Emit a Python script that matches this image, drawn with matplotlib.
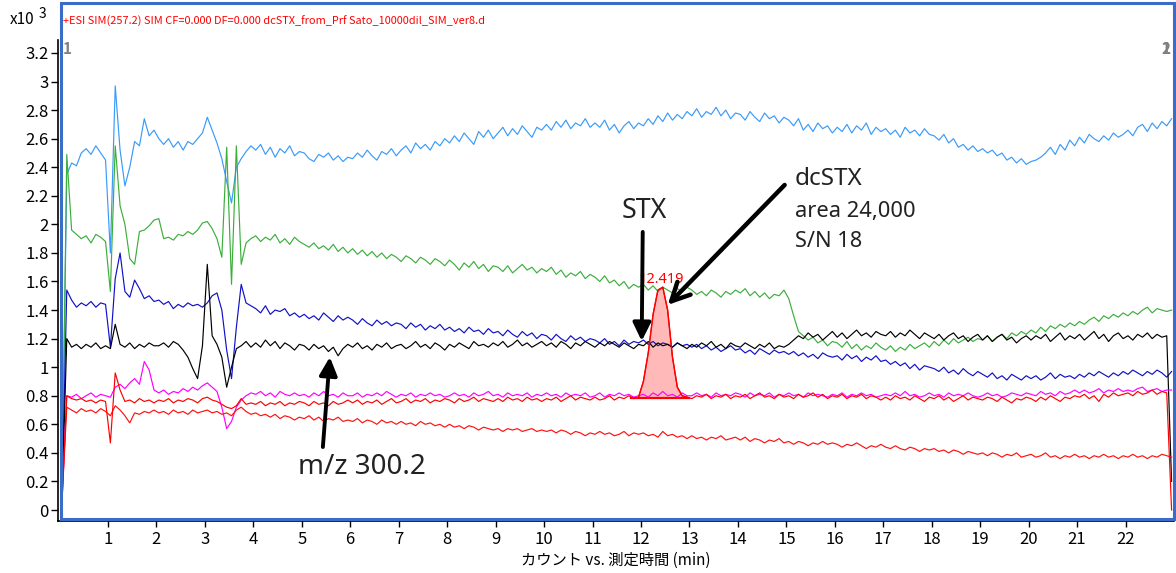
import numpy as np
import matplotlib
matplotlib.use("Agg")
import matplotlib.pyplot as plt
from matplotlib.patches import Rectangle
from matplotlib.ticker import FuncFormatter

plt.rcParams['font.family'] = ['Noto Sans CJK JP', 'DejaVu Sans']

# scans every 0.1 min, first one at 0.05 min
times = np.round(0.05 + 0.1 * np.arange(230), 2)

# intensities in x10^3 counts, one row per minute
light_blue = [
    0.05, 2.35, 2.43, 2.41, 2.50, 2.53, 2.49, 2.55, 2.50, 2.45,
    1.80, 2.97, 2.52, 2.27, 2.40, 2.58, 2.55, 2.74, 2.62, 2.66,
    2.60, 2.56, 2.60, 2.54, 2.58, 2.52, 2.58, 2.56, 2.60, 2.64,
    2.75, 2.66, 2.57, 2.46, 2.30, 2.15, 2.40, 2.46, 2.51, 2.55,
    2.52, 2.56, 2.49, 2.54, 2.47, 2.53, 2.50, 2.55, 2.48, 2.51,
    2.50, 2.46, 2.44, 2.49, 2.47, 2.50, 2.45, 2.48, 2.44, 2.47,
    2.46, 2.50, 2.47, 2.52, 2.48, 2.45, 2.51, 2.49, 2.53, 2.48,
    2.52, 2.55, 2.50, 2.57, 2.53, 2.56, 2.52, 2.58, 2.55, 2.60,
    2.57, 2.62, 2.58, 2.64, 2.60, 2.56, 2.65, 2.61, 2.66, 2.60,
    2.64, 2.68, 2.62, 2.67, 2.63, 2.69, 2.65, 2.61, 2.68, 2.66,
    2.70, 2.66, 2.72, 2.68, 2.73, 2.67, 2.71, 2.69, 2.74, 2.68,
    2.71, 2.68, 2.73, 2.66, 2.70, 2.64, 2.69, 2.72, 2.67, 2.71,
    2.69, 2.74, 2.70, 2.76, 2.72, 2.78, 2.73, 2.77, 2.74, 2.79,
    2.76, 2.81, 2.75, 2.79, 2.77, 2.82, 2.76, 2.80, 2.74, 2.78,
    2.77, 2.73, 2.79, 2.75, 2.72, 2.78, 2.74, 2.76, 2.71, 2.75,
    2.73, 2.69, 2.74, 2.66, 2.70, 2.65, 2.71, 2.67, 2.69, 2.64,
    2.68, 2.65, 2.70, 2.64, 2.69, 2.66, 2.71, 2.63, 2.68, 2.65,
    2.67, 2.63, 2.66, 2.61, 2.68, 2.64, 2.66, 2.62, 2.67, 2.63,
    2.62, 2.59, 2.63, 2.57, 2.60, 2.54, 2.56, 2.52, 2.55, 2.51,
    2.53, 2.50, 2.52, 2.48, 2.50, 2.45, 2.47, 2.43, 2.46, 2.42,
    2.44, 2.45, 2.47, 2.50, 2.54, 2.49, 2.56, 2.52, 2.59, 2.55,
    2.61, 2.57, 2.63, 2.60, 2.58, 2.62, 2.59, 2.64, 2.61, 2.63,
    2.66, 2.62, 2.68, 2.70, 2.65, 2.71, 2.67, 2.72, 2.69, 2.74,
]

green = [
    0.05, 2.49, 1.96, 1.93, 1.90, 1.92, 1.87, 1.93, 1.91, 1.88,
    1.53, 2.55, 2.13, 2.00, 1.76, 1.72, 1.95, 1.96, 1.99, 2.03,
    2.04, 1.90, 1.91, 1.89, 1.93, 1.92, 1.95, 1.93, 1.96, 2.01,
    2.02, 1.97, 1.90, 1.77, 2.54, 1.58, 2.55, 1.72, 1.87, 1.90,
    1.92, 1.88, 1.91, 1.89, 1.93, 1.87, 1.90, 1.86, 1.91, 1.88,
    1.86, 1.84, 1.87, 1.83, 1.85, 1.82, 1.86, 1.81, 1.84, 1.80,
    1.83, 1.79, 1.82, 1.78, 1.81, 1.77, 1.80, 1.76, 1.79, 1.77,
    1.74, 1.78, 1.76, 1.73, 1.77, 1.75, 1.72, 1.76, 1.74, 1.71,
    1.75, 1.72, 1.68, 1.73, 1.70, 1.74, 1.69, 1.72, 1.67, 1.71,
    1.70, 1.67, 1.71, 1.66, 1.69, 1.72, 1.68, 1.70, 1.66, 1.69,
    1.67, 1.70, 1.65, 1.68, 1.63, 1.66, 1.64, 1.67, 1.62, 1.65,
    1.63, 1.60, 1.64, 1.59, 1.61, 1.57, 1.60, 1.55, 1.58, 1.56,
    1.58, 1.54, 1.57, 1.53, 1.56, 1.54, 1.52, 1.55, 1.53, 1.56,
    1.54, 1.51, 1.53, 1.50, 1.54, 1.52, 1.49, 1.53, 1.51, 1.54,
    1.52, 1.55, 1.50, 1.53, 1.49, 1.52, 1.48, 1.51, 1.50, 1.54,
    1.48, 1.36, 1.25, 1.22, 1.19, 1.21, 1.17, 1.19, 1.15, 1.18,
    1.17, 1.14, 1.18, 1.13, 1.16, 1.12, 1.15, 1.13, 1.17, 1.14,
    1.12, 1.15, 1.11, 1.14, 1.12, 1.16, 1.13, 1.15, 1.17, 1.14,
    1.18, 1.15, 1.19, 1.16, 1.20, 1.17, 1.19, 1.21, 1.18, 1.20,
    1.19, 1.22, 1.18, 1.21, 1.23, 1.20, 1.24, 1.22, 1.25, 1.23,
    1.26, 1.24, 1.28, 1.25, 1.29, 1.27, 1.30, 1.28, 1.31, 1.29,
    1.32, 1.30, 1.33, 1.35, 1.32, 1.36, 1.34, 1.37, 1.35, 1.38,
    1.36, 1.39, 1.37, 1.40, 1.42, 1.38, 1.41, 1.40, 1.39, 1.40,
]

blue = [
    0.05, 1.54, 1.47, 1.42, 1.45, 1.43, 1.46, 1.42, 1.45, 1.44,
    1.14, 1.62, 1.80, 1.53, 1.49, 1.61, 1.55, 1.48, 1.50, 1.46,
    1.47, 1.44, 1.46, 1.41, 1.44, 1.42, 1.45, 1.43, 1.44, 1.42,
    1.45, 1.50, 1.52, 1.40, 1.12, 0.92, 1.28, 1.58, 1.45, 1.43,
    1.41, 1.38, 1.43, 1.37, 1.40, 1.39, 1.41, 1.36, 1.38, 1.35,
    1.37, 1.34, 1.36, 1.33, 1.38, 1.35, 1.32, 1.36, 1.33, 1.35,
    1.33, 1.30, 1.34, 1.31, 1.29, 1.33, 1.30, 1.32, 1.29, 1.31,
    1.30, 1.27, 1.31, 1.28, 1.30, 1.26, 1.29, 1.27, 1.30, 1.26,
    1.28, 1.25, 1.27, 1.24, 1.28, 1.25, 1.26, 1.23, 1.27, 1.24,
    1.25, 1.22, 1.26, 1.23, 1.21, 1.25, 1.22, 1.24, 1.20, 1.23,
    1.22, 1.19, 1.23, 1.20, 1.18, 1.22, 1.19, 1.21, 1.18, 1.20,
    1.19, 1.17, 1.20, 1.16, 1.18, 1.15, 1.19, 1.16, 1.18, 1.17,
    1.19, 1.16, 1.18, 1.15, 1.17, 1.16, 1.14, 1.17, 1.15, 1.16,
    1.14, 1.16, 1.13, 1.15, 1.12, 1.14, 1.11, 1.13, 1.15, 1.12,
    1.13, 1.10, 1.12, 1.09, 1.13, 1.11, 1.09, 1.12, 1.10, 1.11,
    1.09, 1.11, 1.08, 1.10, 1.07, 1.09, 1.06, 1.10, 1.08, 1.07,
    1.08, 1.05, 1.09, 1.06, 1.08, 1.04, 1.07, 1.05, 1.08, 1.04,
    1.05, 1.02, 1.04, 1.01, 1.03, 0.99, 1.02, 0.98, 1.01, 1.00,
    0.99, 0.97, 1.00, 0.96, 0.98, 0.95, 0.99, 0.96, 0.94, 0.97,
    0.95, 0.93, 0.96, 0.92, 0.94, 0.91, 0.95, 0.93, 0.91, 0.94,
    0.92, 0.94, 0.91, 0.93, 0.96, 0.92, 0.95, 0.93, 0.94, 0.92,
    0.95, 0.93, 0.96, 0.94, 0.97, 0.95, 0.93, 0.96, 0.94, 0.97,
    0.95, 0.98, 0.96, 0.94, 0.97, 0.95, 0.98, 0.96, 0.93, 0.97,
]

black = [
    0.05, 1.20, 1.14, 1.16, 1.13, 1.16, 1.14, 1.17, 1.13, 1.15,
    1.13, 1.30, 1.16, 1.14, 1.17, 1.13, 1.16, 1.14, 1.17, 1.15,
    1.15, 1.17, 1.14, 1.18, 1.16, 1.12, 1.07, 0.99, 0.92, 1.15,
    1.72, 1.22, 1.16, 1.07, 0.86, 1.00, 1.13, 1.15, 1.18, 1.14,
    1.17, 1.14, 1.19, 1.15, 1.18, 1.13, 1.17, 1.15, 1.12, 1.16,
    1.15, 1.12, 1.16, 1.13, 1.15, 1.11, 1.14, 1.08, 1.13, 1.16,
    1.14, 1.17, 1.13, 1.15, 1.12, 1.16, 1.14, 1.17, 1.13, 1.15,
    1.16, 1.13, 1.15, 1.18, 1.14, 1.16, 1.13, 1.17, 1.15, 1.12,
    1.16, 1.14, 1.17, 1.15, 1.13, 1.18, 1.15, 1.16, 1.14, 1.17,
    1.15, 1.18, 1.14, 1.16, 1.19, 1.15, 1.17, 1.14, 1.16, 1.18,
    1.15, 1.17, 1.14, 1.18, 1.16, 1.13, 1.17, 1.15, 1.18, 1.16,
    1.14, 1.17, 1.15, 1.18, 1.16, 1.14, 1.17, 1.15, 1.13, 1.16,
    1.15, 1.18, 1.14, 1.17, 1.15, 1.16, 1.14, 1.17, 1.15, 1.13,
    1.16, 1.14, 1.17, 1.15, 1.18, 1.14, 1.16, 1.13, 1.17, 1.15,
    1.14, 1.17, 1.15, 1.13, 1.16, 1.14, 1.17, 1.13, 1.15, 1.14,
    1.16, 1.19, 1.22, 1.20, 1.24, 1.21, 1.23, 1.19, 1.22, 1.25,
    1.21, 1.24, 1.20, 1.23, 1.26, 1.22, 1.24, 1.21, 1.25, 1.23,
    1.22, 1.25, 1.21, 1.24, 1.22, 1.26, 1.23, 1.20, 1.24, 1.22,
    1.20, 1.23, 1.19, 1.22, 1.24, 1.20, 1.22, 1.18, 1.21, 1.23,
    1.19, 1.22, 1.18, 1.21, 1.23, 1.19, 1.21, 1.17, 1.20, 1.22,
    1.19, 1.22, 1.20, 1.23, 1.18, 1.21, 1.24, 1.19, 1.22, 1.20,
    1.23, 1.19, 1.22, 1.25, 1.20, 1.23, 1.18, 1.22, 1.24, 1.20,
    1.22, 1.19, 1.23, 1.21, 1.24, 1.20, 1.23, 1.21, 1.22, 0.20,
]

magenta = [
    0.05, 0.80, 0.79, 0.81, 0.78, 0.80, 0.82, 0.79, 0.81, 0.80,
    0.79, 0.86, 0.88, 0.85, 0.89, 0.92, 0.88, 1.04, 0.98, 0.84,
    0.82, 0.84, 0.81, 0.83, 0.82, 0.85, 0.83, 0.86, 0.84, 0.87,
    0.89, 0.86, 0.83, 0.72, 0.57, 0.62, 0.72, 0.77, 0.80, 0.82,
    0.81, 0.83, 0.80, 0.82, 0.79, 0.83, 0.81, 0.80, 0.82, 0.80,
    0.81, 0.79, 0.82, 0.80, 0.83, 0.80, 0.81, 0.79, 0.82, 0.80,
    0.80, 0.82, 0.79, 0.81, 0.80, 0.82, 0.80, 0.83, 0.81, 0.79,
    0.81, 0.80, 0.82, 0.79, 0.81, 0.80, 0.82, 0.80, 0.81, 0.79,
    0.80, 0.82, 0.80, 0.81, 0.79, 0.82, 0.80, 0.81, 0.83, 0.80,
    0.81, 0.79, 0.82, 0.80, 0.81, 0.80, 0.82, 0.79, 0.81, 0.80,
    0.82, 0.80, 0.81, 0.79, 0.82, 0.80, 0.81, 0.80, 0.82, 0.79,
    0.80, 0.82, 0.79, 0.81, 0.80, 0.82, 0.80, 0.81, 0.79, 0.80,
    0.81, 0.79, 0.82, 0.80, 0.83, 0.80, 0.81, 0.79, 0.82, 0.80,
    0.80, 0.82, 0.80, 0.81, 0.79, 0.82, 0.80, 0.81, 0.80, 0.82,
    0.81, 0.79, 0.82, 0.80, 0.81, 0.80, 0.82, 0.79, 0.81, 0.80,
    0.82, 0.80, 0.81, 0.79, 0.82, 0.80, 0.81, 0.80, 0.79, 0.81,
    0.80, 0.82, 0.79, 0.81, 0.80, 0.82, 0.80, 0.81, 0.79, 0.80,
    0.81, 0.80, 0.82, 0.80, 0.83, 0.80, 0.81, 0.79, 0.80, 0.82,
    0.80, 0.81, 0.79, 0.82, 0.80, 0.81, 0.80, 0.82, 0.80, 0.79,
    0.80, 0.82, 0.80, 0.81, 0.79, 0.80, 0.82, 0.81, 0.80, 0.82,
    0.81, 0.80, 0.83, 0.81, 0.82, 0.80, 0.83, 0.81, 0.82, 0.84,
    0.82, 0.84, 0.82, 0.83, 0.85, 0.82, 0.84, 0.83, 0.85, 0.83,
    0.84, 0.83, 0.85, 0.86, 0.83, 0.84, 0.85, 0.83, 0.84, 0.84,
]

# m/z 257.2 trace (dcSTX peak at 12.419 min)
red_upper = [
    0.05, 0.80, 0.78, 0.77, 0.78, 0.76, 0.77, 0.75, 0.77, 0.76,
    0.47, 0.96, 0.84, 0.76, 0.77, 0.75, 0.78, 0.76, 0.77, 0.75,
    0.77, 0.76, 0.78, 0.75, 0.77, 0.76, 0.78, 0.77, 0.75, 0.78,
    0.79, 0.77, 0.76, 0.74, 0.72, 0.71, 0.73, 0.78, 0.74, 0.75,
    0.74, 0.76, 0.73, 0.75, 0.74, 0.76, 0.73, 0.75, 0.74, 0.76,
    0.75, 0.73, 0.76, 0.74, 0.75, 0.73, 0.76, 0.74, 0.75, 0.77,
    0.75, 0.77, 0.74, 0.76, 0.75, 0.77, 0.74, 0.76, 0.78, 0.75,
    0.76, 0.78, 0.75, 0.77, 0.76, 0.78, 0.75, 0.77, 0.76, 0.78,
    0.77, 0.75, 0.78, 0.76, 0.77, 0.79, 0.76, 0.78, 0.77, 0.76,
    0.78, 0.76, 0.79, 0.77, 0.78, 0.76, 0.79, 0.77, 0.78, 0.76,
    0.78, 0.77, 0.79, 0.76, 0.78, 0.80, 0.77, 0.79, 0.78, 0.77,
    0.79, 0.77, 0.78, 0.80, 0.77, 0.79, 0.78, 0.80, 0.78, 0.79,
    0.90, 1.10, 1.37, 1.54, 1.56, 1.40, 1.07, 0.86, 0.80, 0.79,
    0.78, 0.80, 0.79, 0.81, 0.78, 0.80, 0.79, 0.81, 0.78, 0.80,
    0.79, 0.81, 0.78, 0.80, 0.82, 0.79, 0.80, 0.78, 0.81, 0.79,
    0.80, 0.78, 0.81, 0.79, 0.80, 0.82, 0.79, 0.81, 0.78, 0.80,
    0.79, 0.81, 0.78, 0.80, 0.79, 0.81, 0.78, 0.80, 0.79, 0.77,
    0.79, 0.77, 0.80, 0.78, 0.79, 0.77, 0.80, 0.78, 0.76, 0.79,
    0.78, 0.80, 0.77, 0.79, 0.76, 0.78, 0.80, 0.77, 0.79, 0.78,
    0.77, 0.79, 0.78, 0.76, 0.79, 0.77, 0.75, 0.78, 0.77, 0.79,
    0.78, 0.76, 0.79, 0.77, 0.80, 0.78, 0.76, 0.79, 0.78, 0.80,
    0.79, 0.81, 0.78, 0.80, 0.76, 0.81, 0.79, 0.82, 0.80, 0.81,
    0.82, 0.80, 0.83, 0.81, 0.82, 0.84, 0.81, 0.83, 0.82, 0.00,
]

red_lower = [
    0.05, 0.72, 0.70, 0.68, 0.71, 0.69, 0.70, 0.68, 0.71, 0.69,
    0.66, 0.73, 0.70, 0.66, 0.61, 0.68, 0.67, 0.69, 0.68, 0.70,
    0.68, 0.69, 0.67, 0.70, 0.68, 0.69, 0.67, 0.70, 0.68, 0.69,
    0.70, 0.68, 0.69, 0.67, 0.68, 0.66, 0.70, 0.72, 0.69, 0.67,
    0.68, 0.66, 0.67, 0.65, 0.67, 0.64, 0.66, 0.65, 0.63, 0.65,
    0.64, 0.66, 0.63, 0.65, 0.62, 0.64, 0.63, 0.65, 0.62, 0.63,
    0.62, 0.64, 0.61, 0.63, 0.62, 0.60, 0.63, 0.61, 0.62, 0.60,
    0.62, 0.60, 0.61, 0.59, 0.62, 0.60, 0.61, 0.59, 0.60, 0.58,
    0.60, 0.58, 0.59, 0.57, 0.59, 0.58, 0.56, 0.58, 0.57, 0.56,
    0.57, 0.55, 0.57, 0.56, 0.57, 0.55, 0.56, 0.57, 0.55, 0.56,
    0.55, 0.56, 0.54, 0.56, 0.55, 0.53, 0.55, 0.54, 0.52, 0.54,
    0.53, 0.55, 0.53, 0.54, 0.52, 0.53, 0.55, 0.52, 0.54, 0.53,
    0.54, 0.52, 0.53, 0.51, 0.55, 0.52, 0.53, 0.51, 0.52, 0.50,
    0.52, 0.50, 0.51, 0.49, 0.51, 0.50, 0.52, 0.49, 0.50, 0.51,
    0.49, 0.51, 0.48, 0.50, 0.49, 0.47, 0.49, 0.48, 0.50, 0.47,
    0.48, 0.46, 0.48, 0.47, 0.45, 0.47, 0.46, 0.48, 0.46, 0.47,
    0.46, 0.44, 0.46, 0.45, 0.47, 0.45, 0.43, 0.45, 0.44, 0.46,
    0.44, 0.43, 0.45, 0.43, 0.42, 0.44, 0.43, 0.41, 0.43, 0.42,
    0.43, 0.41, 0.42, 0.40, 0.42, 0.41, 0.39, 0.41, 0.40, 0.39,
    0.40, 0.38, 0.40, 0.39, 0.37, 0.39, 0.38, 0.40, 0.37, 0.38,
    0.39, 0.37, 0.38, 0.40, 0.37, 0.38, 0.36, 0.38, 0.37, 0.39,
    0.37, 0.38, 0.36, 0.38, 0.37, 0.39, 0.37, 0.38, 0.36, 0.38,
    0.37, 0.39, 0.37, 0.38, 0.36, 0.38, 0.37, 0.39, 0.38, 0.37,
]

# integrated peak
peak_rt = 12.419
peak_from, peak_to = 11.95, 12.95
peak_base = 0.785
base_from, base_to = 11.80, 13.00

yticks = [0, 0.2, 0.4, 0.6, 0.8, 1, 1.2, 1.4, 1.6, 1.8, 2, 2.2, 2.4, 2.6, 2.8, 3, 3.2]
xticks = list(range(1, 23))

W, H = 1176, 573
fig = plt.figure(figsize=(W / 100, H / 100), dpi=100)
ax = fig.add_axes([58 / W, (H - 521) / H, (1174 - 58) / W, (521 - 40) / H])

traces = [
    (light_blue, '#3a9afa'),
    (green, '#3cae3c'),
    (blue, '#1010c8'),
    (black, '#000000'),
    (magenta, '#ff00ff'),
    (red_lower, '#ff1010'),
    (red_upper, '#ff0000'),
]
for vals, col in traces:
    ax.plot(times, vals, color=col, lw=0.85)

ru = np.array(red_upper)
sel = (times >= peak_from - 1e-6) & (times <= peak_to + 1e-6)
ax.fill_between(times[sel], ru[sel], peak_base, color='#ff5050', alpha=0.4, lw=0)
ax.plot(times[sel], ru[sel], color='#ff0000', lw=1.0)
ax.plot([base_from, base_to], [peak_base, peak_base], color='#ff0000', lw=1.6)
ax.text(peak_rt, ru[sel].max() + 0.03, f'{peak_rt:.3f}', color='#ff0000',
        fontsize=10.5, ha='center', va='baseline', family=['Noto Sans', 'DejaVu Sans'])

ax.set_xlim(-0.031, 23.0)
ax.set_ylim(-0.077, 3.291)
ax.set_xticks(xticks)
ax.set_yticks(yticks)
ax.yaxis.set_major_formatter(FuncFormatter(lambda v, p: f'{v:g}'))
ax.tick_params(axis='y', direction='out', length=5, width=1, pad=1.5, labelsize=12)
ax.tick_params(axis='x', direction='out', length=4.5, width=1, pad=2.5, labelsize=12)
for s in ['top', 'right']:
    ax.spines[s].set_visible(False)
for s in ['left', 'bottom']:
    ax.spines[s].set_linewidth(1.2)
ax.patch.set_alpha(0)

ax.set_xlabel('カウント vs. 測定時間 (min)', fontsize=11, labelpad=3)

# arrows and notes
solid = dict(arrowstyle='-|>,head_length=0.55,head_width=0.27', lw=2.8, color='black',
             shrinkA=0, shrinkB=0, mutation_scale=20)
openh = dict(arrowstyle='->,head_length=0.6,head_width=0.3', lw=3.2, color='black',
             shrinkA=0, shrinkB=0, mutation_scale=22)
ax.annotate('', xy=(12.015, 1.183), xytext=(12.036, 1.947), arrowprops=solid)
ax.annotate('', xy=(12.552, 1.436), xytext=(14.965, 2.276), arrowprops=openh)
ax.annotate('', xy=(5.579, 1.071), xytext=(5.435, 0.441), arrowprops=solid)

note = dict(color='#222222', family=['Noto Sans', 'DejaVu Sans'], va='baseline', ha='left',
            fontweight='light')
ax.text(11.60, 2.045, 'STX', fontsize=19.3, **note)
ax.text(15.17, 2.276, 'dcSTX', fontsize=17.5, **note)
ax.text(15.17, 2.052, 'area 24,000', fontsize=15.8, **note)
ax.text(15.17, 1.842, 'S/N 18', fontsize=15.7, **note)
ax.text(4.92, 0.252, 'm/z 300.2', fontsize=20, **note)

# frame and header
fig.patches.append(Rectangle((60.5 / W, (H - 518.5) / H), 1113.5 / W, 515.5 / H,
                             transform=fig.transFigure, fill=False,
                             edgecolor='#3b6cc8', lw=2.2))
fig.text(63 / W, 1 - 21 / H,
         '+ESI SIM(257.2) SIM CF=0.000 DF=0.000 dcSTX_from_Prf Sato_10000dil_SIM_ver8.d',
         color='#ff0000', fontsize=7.9, va='center', ha='left')
fig.text(10 / W, 1 - 20 / H, 'x10', fontsize=11, va='center', ha='left')
fig.text(39 / W, 1 - 14 / H, '3', fontsize=10, va='center', ha='left')
for lab in ['1']:
    fig.text(63 / W, 1 - 49 / H, lab, color='#808080', fontsize=11, fontweight='bold',
             va='center', ha='left')
for lab in ['1', '2']:
    fig.text(1162 / W, 1 - 49 / H, lab, color='#808080', fontsize=11, fontweight='bold',
             va='center', ha='left')

fig.savefig('out.png', dpi=100)
